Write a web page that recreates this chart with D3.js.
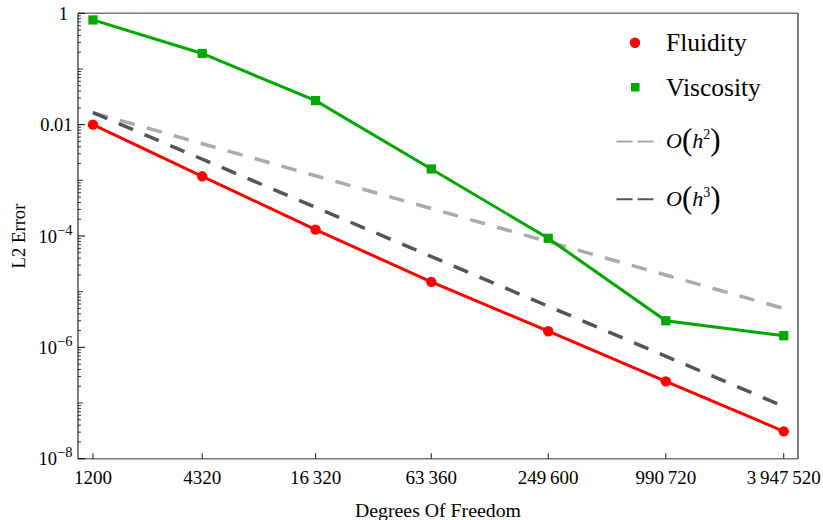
<!DOCTYPE html>
<html>
<head>
<meta charset="utf-8">
<script src="https://cdn.jsdelivr.net/npm/d3@7/dist/d3.min.js"></script>
<style>
html,body{margin:0;padding:0;background:#fff;}
</style>
</head>
<body>
<svg id="chart" width="823" height="520" font-family="Liberation Serif, Times New Roman, serif"></svg>
<script>
// ---- data ----
const dof = [1200, 4320, 16320, 63360, 249600, 990720, 3947520];
const dofLabels = ["1200", "4320", "16\u2009320", "63\u2009360", "249\u2009600", "990\u2009720", "3\u2009947\u2009520"];
const fluidity = [1.0e-2, 1.18e-3, 1.3e-4, 1.5e-5, 1.95e-6, 2.45e-7, 3.1e-8];
const viscosity = [0.76, 0.19, 0.027, 1.6e-3, 9.1e-5, 3.0e-6, 1.62e-6];
const refDof = [1200, 3947520];
const refH2 = [0.0164, 5.0e-6];
const refH3 = [0.0164, 8.7e-8];
const yMajorTicks = [1, 1e-2, 1e-4, 1e-6, 1e-8];
const yMajorExp = [0, -2, -4, -6, -8];
const seriesNames = ["Fluidity", "Viscosity"];

// ---- layout ----
const L = 78, R = 798, T = 13.3, B = 458.7;
const svg = d3.select("#chart");

const x = d3.scaleLog().domain([1007, 4.667e6]).range([L, R]);
const y = d3.scaleLog().domain([1e-8, 1]).range([B, T]);

const red = "#ff0000", green = "#00a800", lightGray = "#aaaaaa", darkGray = "#555555";

// frame
svg.append("line").attr("x1", L).attr("x2", R).attr("y1", T).attr("y2", T)
  .attr("stroke", "#777").attr("stroke-width", 1.4);
svg.append("line").attr("x1", L).attr("x2", R).attr("y1", B).attr("y2", B)
  .attr("stroke", "#777").attr("stroke-width", 1.4);
svg.append("line").attr("x1", L).attr("x2", L).attr("y1", T).attr("y2", B)
  .attr("stroke", "#000").attr("stroke-width", 1);
svg.append("line").attr("x1", R).attr("x2", R).attr("y1", T).attr("y2", B)
  .attr("stroke", "#000").attr("stroke-width", 1);

// y minor ticks
const minor = [];
for (let e = -8; e < 0; e++) {
  for (let k = 1; k <= 9; k++) {
    const v = k * Math.pow(10, e);
    if (k === 1 && e % 2 === 0) continue;
    minor.push({v, len: k === 1 ? 5 : 3});
  }
}
svg.append("g").selectAll("line").data(minor).join("line")
  .attr("x1", L).attr("x2", d => L + d.len)
  .attr("y1", d => y(d.v)).attr("y2", d => y(d.v))
  .attr("stroke", "#000").attr("stroke-width", 0.8);
// y major ticks
svg.append("g").selectAll("line").data(yMajorTicks).join("line")
  .attr("x1", L).attr("x2", L + 7)
  .attr("y1", d => y(d)).attr("y2", d => y(d))
  .attr("stroke", "#000").attr("stroke-width", 1);

// y labels
const yl = svg.append("g").attr("font-size", 18.5).attr("fill", "#000");
yMajorTicks.forEach((v, i) => {
  const e = yMajorExp[i];
  const t = yl.append("text").attr("x", e === 0 ? 68 : 72.5).attr("y", y(v) + 6.5).attr("text-anchor", "end");
  if (e === 0) { t.text("1"); }
  else if (e === -2) { t.text("0.01"); }
  else {
    t.append("tspan").text("10");
    t.append("tspan").attr("font-size", 14.5).attr("dy", -8).text("\u2212" + (-e));
  }
});

// x ticks
svg.append("g").selectAll("line").data(dof).join("line")
  .attr("x1", d => x(d)).attr("x2", d => x(d))
  .attr("y1", B).attr("y2", B - 5.5)
  .attr("stroke", "#000").attr("stroke-width", 0.9);
svg.append("g").attr("font-size", 19).selectAll("text").data(dof).join("text")
  .attr("x", d => x(d)).attr("y", 483.5).attr("text-anchor", "middle")
  .text((d, i) => dofLabels[i]);

// axis titles
svg.append("text").attr("x", (L + R) / 2).attr("y", 517).attr("text-anchor", "middle")
  .attr("font-size", 19.8).text("Degrees Of Freedom");
svg.append("text").attr("transform", `translate(24.5,${(T + B) / 2}) rotate(-90)`)
  .attr("text-anchor", "middle").attr("font-size", 18.7).text("L2 Error");

// reference lines
const line = d3.line().x(d => x(d[0])).y(d => y(d[1]));
svg.append("path").datum(refDof.map((d, i) => [d, refH2[i]])).attr("d", line)
  .attr("fill", "none").attr("stroke", lightGray).attr("stroke-width", 3.5)
  .attr("stroke-dasharray", "15.5,12.5");
svg.append("path").datum(refDof.map((d, i) => [d, refH3[i]])).attr("d", line)
  .attr("fill", "none").attr("stroke", darkGray).attr("stroke-width", 3.5)
  .attr("stroke-dasharray", "15.5,12.5");

// data series
const fl = dof.map((d, i) => [d, fluidity[i]]);
const vi = dof.map((d, i) => [d, viscosity[i]]);
svg.append("path").datum(fl).attr("d", line).attr("fill", "none")
  .attr("stroke", red).attr("stroke-width", 3);
svg.append("path").datum(vi).attr("d", line).attr("fill", "none")
  .attr("stroke", green).attr("stroke-width", 3);
svg.append("g").selectAll("circle").data(fl).join("circle")
  .attr("cx", d => x(d[0])).attr("cy", d => y(d[1])).attr("r", 5.2).attr("fill", red);
svg.append("g").selectAll("rect").data(vi).join("rect")
  .attr("x", d => x(d[0]) - 4.6).attr("y", d => y(d[1]) - 4.6)
  .attr("width", 9.2).attr("height", 9.2).attr("fill", green);

// legend
const lg = svg.append("g").attr("font-size", 25.5);
lg.append("circle").attr("cx", 635).attr("cy", 42.7).attr("r", 5.2).attr("fill", red);
lg.append("text").attr("x", 666).attr("y", 51).text(seriesNames[0]);
lg.append("rect").attr("x", 631).attr("y", 83).attr("width", 8.5).attr("height", 8.5).attr("fill", green);
lg.append("text").attr("x", 666).attr("y", 96).text(seriesNames[1]);

lg.append("line").attr("x1", 616.5).attr("x2", 655).attr("y1", 141.5).attr("y2", 141.5)
  .attr("stroke", lightGray).attr("stroke-width", 2).attr("stroke-dasharray", "16,5");
lg.append("line").attr("x1", 616.5).attr("x2", 655).attr("y1", 199.3).attr("y2", 199.3)
  .attr("stroke", darkGray).attr("stroke-width", 2).attr("stroke-dasharray", "16,5");

function orderLabel(yBase, p) {
  const t = lg.append("text").attr("x", 666).attr("y", yBase).attr("font-size", 22);
  t.append("tspan").attr("font-style", "italic").text("O");
  t.append("tspan").attr("font-size", 31).attr("dy", 2).text("(");
  t.append("tspan").attr("font-style", "italic").attr("dy", -2).text("h");
  t.append("tspan").attr("font-size", 14).attr("dy", -9).text(p);
  t.append("tspan").attr("font-size", 31).attr("dy", 11).text(")");
}
orderLabel(148, "2");
orderLabel(206, "3");
</script>
</body>
</html>
